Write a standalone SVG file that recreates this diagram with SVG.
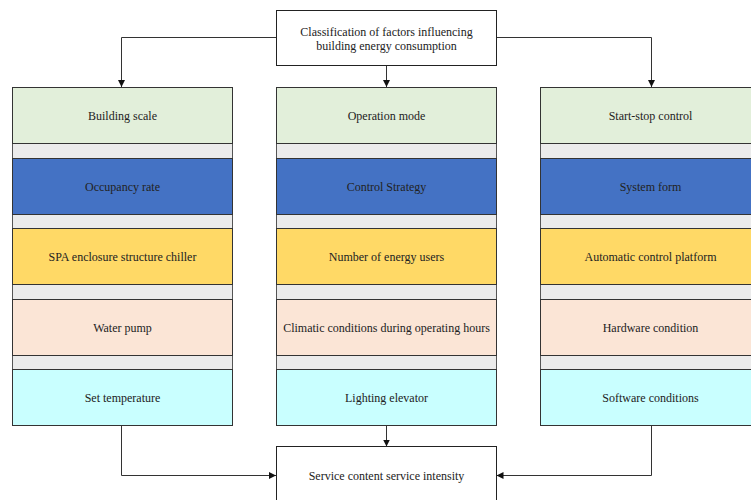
<svg xmlns="http://www.w3.org/2000/svg" width="751" height="500" viewBox="0 0 751 500" font-family="'Liberation Serif', 'Times New Roman', Times, serif">
<style>
text{font-family:'Liberation Serif','Times New Roman',Times,serif;font-size:12px;fill:#222;text-anchor:middle;dominant-baseline:central}
.box{fill:#fff;stroke:#222;stroke-width:1}
.gap{fill:#ebebeb;stroke:#555;stroke-width:1}
.b{stroke:#333;stroke-width:1}
.g{fill:#e2efda}.bl{fill:#4472c4}.y{fill:#ffd966}.p{fill:#fbe5d6}.c{fill:#c9ffff}
.line{fill:none;stroke:#333;stroke-width:1}
</style>
<defs>
<marker id="ah" viewBox="0 0 10 10" refX="10" refY="5" markerWidth="7" markerHeight="7" markerUnits="userSpaceOnUse" orient="auto">
<path d="M0,0 L10,5 L0,10 z" fill="#111"/>
</marker>
</defs>
<g id="connectors">
<path class="line" d="M276,37.5 H121.5 V87" marker-end="url(#ah)"/>
<path class="line" d="M386.5,66 V87" marker-end="url(#ah)"/>
<path class="line" d="M496.5,37.5 H651.5 V87" marker-end="url(#ah)"/>
<path class="line" d="M386.5,425.5 V446.5" marker-end="url(#ah)"/>
<path class="line" d="M121.5,425.5 V475.5 H276" marker-end="url(#ah)"/>
<path class="line" d="M651.5,425.5 V475.5 H496.5" marker-end="url(#ah)"/>
</g>
<g id="top">
<rect class="box" x="276.5" y="10.5" width="220" height="55"/>
<text x="386.5" y="31.5">Classification of factors influencing</text>
<text x="386.5" y="45.5">building energy consumption</text>
</g>
<g id="bottom">
<rect class="box" x="276.5" y="446.5" width="220" height="60"/>
<text x="386.5" y="476">Service content service intensity</text>
</g>
<g id="col-left">
<rect class="gap" x="12.5" y="87.5" width="220" height="338"/>
<rect class="b g" x="12.5" y="87.5" width="220" height="56"/>
<rect class="b bl" x="12.5" y="158.5" width="220" height="56"/>
<rect class="b y" x="12.5" y="228.5" width="220" height="56"/>
<rect class="b p" x="12.5" y="299.5" width="220" height="56"/>
<rect class="b c" x="12.5" y="369.5" width="220" height="56"/>
<text x="122.5" y="115.5">Building scale</text>
<text x="122.5" y="186.5">Occupancy rate</text>
<text x="122.5" y="256.5">SPA enclosure structure chiller</text>
<text x="122.5" y="327.5">Water pump</text>
<text x="122.5" y="397.5">Set temperature</text>
</g>
<g id="col-mid">
<rect class="gap" x="276.5" y="87.5" width="220" height="338"/>
<rect class="b g" x="276.5" y="87.5" width="220" height="56"/>
<rect class="b bl" x="276.5" y="158.5" width="220" height="56"/>
<rect class="b y" x="276.5" y="228.5" width="220" height="56"/>
<rect class="b p" x="276.5" y="299.5" width="220" height="56"/>
<rect class="b c" x="276.5" y="369.5" width="220" height="56"/>
<text x="386.5" y="115.5">Operation mode</text>
<text x="386.5" y="186.5">Control Strategy</text>
<text x="386.5" y="256.5">Number of energy users</text>
<text x="386.5" y="327.5">Climatic conditions during operating hours</text>
<text x="386.5" y="397.5">Lighting elevator</text>
</g>
<g id="col-right">
<rect class="gap" x="540.5" y="87.5" width="222" height="338"/>
<rect class="b g" x="540.5" y="87.5" width="222" height="56"/>
<rect class="b bl" x="540.5" y="158.5" width="222" height="56"/>
<rect class="b y" x="540.5" y="228.5" width="222" height="56"/>
<rect class="b p" x="540.5" y="299.5" width="222" height="56"/>
<rect class="b c" x="540.5" y="369.5" width="222" height="56"/>
<text x="650.5" y="115.5">Start-stop control</text>
<text x="650.5" y="186.5">System form</text>
<text x="650.5" y="256.5">Automatic control platform</text>
<text x="650.5" y="327.5">Hardware condition</text>
<text x="650.5" y="397.5">Software conditions</text>
</g>
</svg>
